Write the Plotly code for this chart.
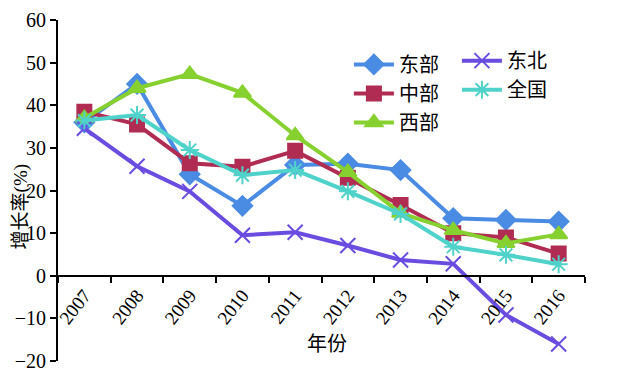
import plotly.graph_objects as go

years = ["2007", "2008", "2009", "2010", "2011", "2012", "2013", "2014", "2015", "2016"]
east = [36.0, 45.0, 23.8, 16.4, 26.0, 26.3, 24.8, 13.5, 13.1, 12.7]
central = [38.5, 35.5, 26.4, 25.6, 29.3, 23.0, 16.6, 10.0, 9.0, 5.2]
west = [37.0, 44.0, 47.3, 42.9, 32.9, 24.3, 14.7, 10.7, 7.6, 9.7]
northeast = [34.6, 25.7, 19.8, 9.5, 10.2, 7.1, 3.7, 2.8, -9.2, -16.0]
national = [36.4, 37.7, 29.5, 23.6, 24.8, 19.8, 14.5, 6.8, 4.9, 2.7]

FONT = "Liberation Serif, Noto Sans CJK SC, serif"

series = [
    ("东部", east, "#4a8be3", "diamond", 15, "legend"),
    ("中部", central, "#b02c52", "square", 14, "legend"),
    ("西部", west, "#86d12f", "triangle-up", 15, "legend"),
    ("东北", northeast, "#6a4ce0", "x-thin-open", 15, "legend2"),
    ("全国", national, "#4fd2c9", "asterisk-open", 15, "legend2"),
]

fig = go.Figure()
for name, vals, color, sym, size, lg in series:
    fig.add_trace(go.Scatter(
        x=years, y=vals, name=name, mode="lines+markers",
        line=dict(color=color, width=4),
        marker=dict(symbol=sym, size=size, color=color,
                    line=dict(color=color, width=2)),
        legend=lg,
    ))

fig.update_layout(
    width=633, height=378,
    margin=dict(l=50, r=56, t=12, b=25),
    paper_bgcolor="white", plot_bgcolor="white",
    font=dict(family=FONT, size=19, color="black"),
    showlegend=True,
    legend=dict(x=0.552, y=0.927, xanchor="left", yanchor="top",
                bgcolor="rgba(0,0,0,0)", font=dict(size=20, family=FONT),
                itemwidth=40, tracegroupgap=0),
    legend2=dict(x=0.757, y=0.938, xanchor="left", yanchor="top",
                 bgcolor="rgba(0,0,0,0)", font=dict(size=20, family=FONT),
                 itemwidth=40, tracegroupgap=0),
    xaxis=dict(
        type="category", range=[-0.5, 9.5],
        anchor="free", position=0.25, automargin=False,
        showline=True, linecolor="black", linewidth=2,
        ticks="outside", ticklen=6, tickwidth=2, tickcolor="black",
        tickson="boundaries", tickangle=-52,
        tickfont=dict(size=19, family=FONT),
        showgrid=False, zeroline=False,
    ),
    yaxis=dict(
        range=[-20, 60], dtick=10, automargin=False,
        showline=True, linecolor="black", linewidth=2,
        ticks="outside", ticklen=6, tickwidth=2, tickcolor="black",
        tickfont=dict(size=20, family=FONT),
        showgrid=False, zeroline=False,
    ),
)

fig.add_annotation(text="增长率(%)", xref="paper", yref="paper",
                   x=-0.071, y=0.452, xanchor="center", yanchor="middle",
                   textangle=-90, showarrow=False,
                   font=dict(size=19, family=FONT))
fig.add_annotation(text="年份", xref="paper", yref="paper",
                   x=0.510, y=0.050, xanchor="center", yanchor="middle",
                   showarrow=False,
                   font=dict(size=20, family=FONT))

fig.write_html("out.html")
